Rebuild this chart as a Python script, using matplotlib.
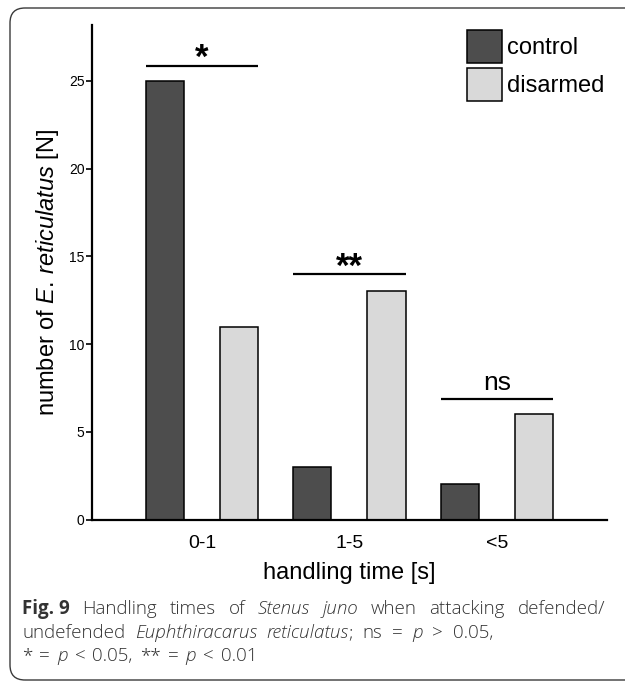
import matplotlib
matplotlib.use('Agg')
import matplotlib.pyplot as plt
import matplotlib.transforms as mtrans
import numpy as np
from matplotlib.patches import FancyBboxPatch

plt.rcParams['font.family'] = ['Liberation Sans', 'DejaVu Sans']
plt.rcParams['mathtext.fontset'] = 'custom'
plt.rcParams['mathtext.rm'] = 'Liberation Sans'
plt.rcParams['mathtext.it'] = 'Liberation Sans:italic'

# [1] data
categories = ['0-1', '1-5', '<5']
control = [25, 3, 2]
disarmed = [11, 13, 6]
sig_labels = ['*', '**', 'ns']
sig_heights = [25.85, 13.97, 6.87]

W, H = 625, 681
fig = plt.figure(figsize=(W / 100, H / 100), dpi=100)

# rounded frame around figure + caption
frame = FancyBboxPatch((0.10, 0.01), 6.6, 6.72, boxstyle='round,pad=0,rounding_size=0.15',
                       transform=fig.dpi_scale_trans, facecolor='none', edgecolor='#3a3a3a',
                       linewidth=1.0, clip_on=False)
fig.patches.append(frame)

# [2] bars
ax = fig.add_axes([91.5 / W, 1 - 519.5 / H, (607 - 91.5) / W, (519.5 - 25) / H])
x = np.arange(len(categories))
w, off = 0.258, 0.251
ax.bar(x - off, control, w, color='#4d4d4d', edgecolor='black', linewidth=1.1, label='control')
ax.bar(x + off, disarmed, w, color='#d9d9d9', edgecolor='black', linewidth=1.1, label='disarmed')

# [3] significance bars
for xi, lab, h in zip(x, sig_labels, sig_heights):
    ax.plot([xi - off - w / 2, xi + off + w / 2], [h, h], color='black', lw=1.6, solid_capstyle='butt')
    if lab == 'ns':
        ax.annotate(lab, (xi, h), xytext=(0, 6.5), textcoords='offset points',
                    ha='center', va='baseline', fontsize=19)
    else:
        ax.annotate(lab, (xi, h), xytext=(0, -1.5), textcoords='offset points',
                    ha='center', va='baseline', fontsize=25, fontweight='bold')

ax.set_xlim(-0.749, 2.746)
ax.set_ylim(0, 28.19)
ax.set_yticks([0, 5, 10, 15, 20, 25])
ax.set_xticks(x)
ax.set_xticklabels(categories)
ax.tick_params(axis='y', length=4, width=1.2, labelsize=10, pad=1)
ax.tick_params(axis='x', length=0, labelsize=14, pad=11.5)
for s in ['top', 'right']:
    ax.spines[s].set_visible(False)
for s in ['left', 'bottom']:
    ax.spines[s].set_linewidth(1.6)

ax.set_xlabel('handling time [s]', fontsize=17, labelpad=6.5)
ax.set_ylabel(r'number of $\mathit{E.\,reticulatus}$ [N]', fontsize=17, labelpad=6)

ax.legend(loc='upper left', bbox_to_anchor=(467 / W, 1 - 30 / H), bbox_transform=fig.transFigure,
          frameon=False, fontsize=17, borderpad=0, borderaxespad=0,
          handlelength=1.48, handleheight=1.78, labelspacing=0.21, handletextpad=0.21)

# [4] caption, placed word by word (first line justified)
renderer = fig.canvas.get_renderer()
ident = mtrans.IdentityTransform()


def place_words(words, y, x0, x1):
    texts, widths = [], []
    for s, style, weight, glue in words:
        t = fig.text(0, 0, s, fontsize=13.5, family=['Open Sans', 'DejaVu Sans'], style=style,
                     weight=weight, color='#333333', transform=ident, va='baseline', ha='left')
        texts.append(t)
        widths.append(t.get_window_extent(renderer).width)
    n_gaps = sum(1 for wd in words[:-1] if not wd[3])
    gap = (x1 - x0 - sum(widths)) / max(n_gaps, 1)
    xx = x0
    for t, wd, word in zip(texts, widths, words):
        t.set_position((xx, H - y))
        xx += wd + (0 if word[3] else gap)


line1 = [('Fig. 9', 'normal', 'bold', False), ('Handling', 'normal', 'light', False),
         ('times', 'normal', 'light', False), ('of', 'normal', 'light', False),
         ('Stenus', 'italic', 'light', False), ('juno', 'italic', 'light', False),
         ('when', 'normal', 'light', False), ('attacking', 'normal', 'light', False),
         ('defended/', 'normal', 'light', False)]
line2 = [('undefended', 'normal', 'light', False), ('Euphthiracarus', 'italic', 'light', False),
         ('reticulatus', 'italic', 'light', True), (';', 'normal', 'light', False),
         ('ns', 'normal', 'light', False), ('=', 'normal', 'light', False),
         ('p', 'italic', 'light', False), ('>', 'normal', 'light', False),
         ('0.05,', 'normal', 'light', False)]
line3 = [('*', 'normal', 'light', False), ('=', 'normal', 'light', False),
         ('p', 'italic', 'light', False), ('<', 'normal', 'light', False),
         ('0.05,', 'normal', 'light', False), ('**', 'normal', 'light', False),
         ('=', 'normal', 'light', False), ('p', 'italic', 'light', False),
         ('<', 'normal', 'light', False), ('0.01', 'normal', 'light', False)]

place_words(line1, 614, 22, 605)
place_words(line2, 638, 22, 493)
place_words(line3, 661, 22, 257)

fig.savefig('out.png', dpi=100)
